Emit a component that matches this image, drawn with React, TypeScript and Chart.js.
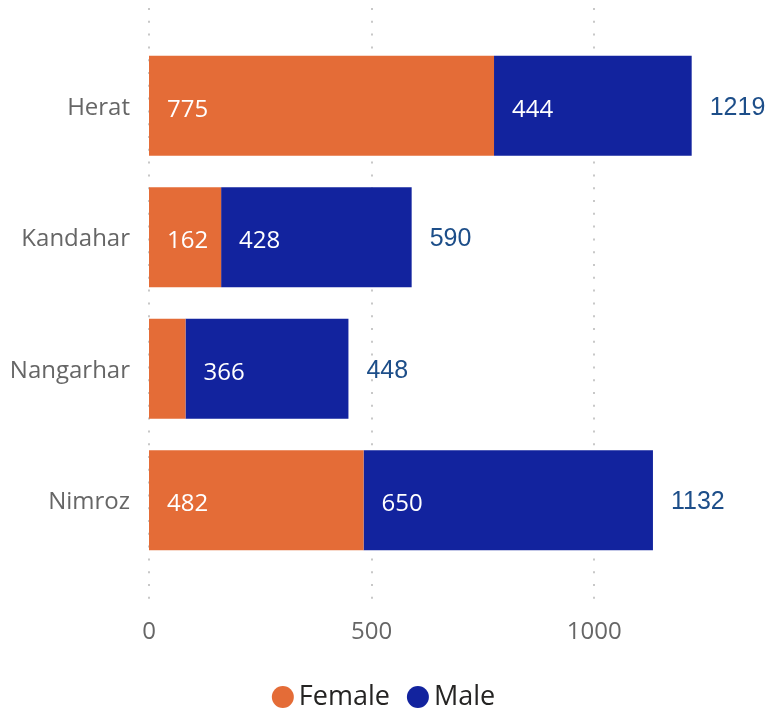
import React, { useEffect, useRef } from "react";
import { Chart, registerables } from "chart.js";

Chart.register(...registerables);

const categories = ["Herat", "Kandahar", "Nangarhar", "Nimroz"];
const femaleValues = [775, 162, 82, 482];
const maleValues = [444, 428, 366, 650];
const xTickValues = [0, 500, 1000];

const FEMALE_COLOR = "#E46C37";
const MALE_COLOR = "#12239E";
const UI_FONT = "'Segoe UI', 'Open Sans', sans-serif";

const gridPlugin = {
  id: "dottedGrid",
  beforeDatasetsDraw(chart: any) {
    const ctx = chart.ctx;
    const xs = chart.scales.x;
    ctx.save();
    ctx.strokeStyle = "#C8C8C8";
    ctx.lineWidth = 2;
    ctx.setLineDash([2, 10.8]);
    xTickValues.forEach((v) => {
      const x = Math.round(xs.getPixelForValue(v));
      ctx.beginPath();
      ctx.moveTo(x, 8);
      ctx.lineTo(x, chart.chartArea.bottom + 42);
      ctx.stroke();
    });
    ctx.restore();
  },
};

const labelPlugin = {
  id: "barLabels",
  afterDatasetsDraw(chart: any) {
    const ctx = chart.ctx;
    ctx.save();
    ctx.textBaseline = "middle";
    ctx.textAlign = "left";
    ctx.font = `24px ${UI_FONT}`;
    ctx.fillStyle = "#FFFFFF";
    chart.data.datasets.forEach((ds: any, di: number) => {
      const meta = chart.getDatasetMeta(di);
      meta.data.forEach((bar: any, i: number) => {
        const left = Math.min(bar.x, bar.base);
        const w = Math.abs(bar.x - bar.base);
        if (w < 50) return;
        ctx.fillText(String(ds.data[i]), left + 18, bar.y + 4);
      });
    });
    // totals
    ctx.font = "25px 'Liberation Sans', Arial, sans-serif";
    ctx.fillStyle = "#1D4E89";
    const lastMeta = chart.getDatasetMeta(chart.data.datasets.length - 1);
    lastMeta.data.forEach((bar: any, i: number) => {
      const total = femaleValues[i] + maleValues[i];
      ctx.fillText(String(total), bar.x + 18, bar.y + 2);
    });
    ctx.restore();
  },
};

const legendPlugin = {
  id: "customLegend",
  afterDraw(chart: any) {
    const ctx = chart.ctx;
    ctx.save();
    ctx.font = `27px ${UI_FONT}`;
    ctx.textBaseline = "middle";
    ctx.textAlign = "left";
    const items = chart.data.datasets.map((d: any) => ({ label: d.label, color: d.backgroundColor }));
    const r = 11;
    const gapText = 5;
    const gapItem = 17;
    const widths = items.map((it: any) => 2 * r + gapText + ctx.measureText(it.label).width);
    const total = widths.reduce((a: number, b: number) => a + b, 0) + gapItem * (items.length - 1);
    let x = chart.width / 2 - total / 2;
    const y = 697;
    items.forEach((it: any, i: number) => {
      ctx.fillStyle = it.color;
      ctx.beginPath();
      ctx.arc(x + r, y, r, 0, Math.PI * 2);
      ctx.fill();
      ctx.fillStyle = "#252423";
      ctx.fillText(it.label, x + 2 * r + gapText, y);
      x += widths[i] + gapItem;
    });
    ctx.restore();
  },
};

export default function App() {
  const canvasRef = useRef<HTMLCanvasElement | null>(null);

  useEffect(() => {
    if (!canvasRef.current) return;
    const chart = new Chart(canvasRef.current, {
      type: "bar",
      data: {
        labels: categories,
        datasets: [
          {
            label: "Female",
            data: femaleValues,
            backgroundColor: FEMALE_COLOR,
            barPercentage: 0.76,
            categoryPercentage: 1,
          },
          {
            label: "Male",
            data: maleValues,
            backgroundColor: MALE_COLOR,
            barPercentage: 0.76,
            categoryPercentage: 1,
          },
        ],
      },
      options: {
        indexAxis: "y",
        animation: false,
        responsive: true,
        maintainAspectRatio: false,
        layout: { padding: { top: 40, left: 0, right: 17, bottom: 56 } },
        plugins: {
          legend: { display: false },
          tooltip: { enabled: false },
        },
        scales: {
          x: {
            stacked: true,
            min: 0,
            max: 1350,
            border: { display: false },
            grid: { display: false, drawTicks: false },
            afterBuildTicks(scale: any) {
              scale.ticks = xTickValues.map((v) => ({ value: v }));
            },
            ticks: {
              padding: 52,
              color: "#666666",
              font: { size: 24, family: UI_FONT },
              callback: (v: any) => String(v),
            },
            afterFit(scale: any) {
              scale.height = 90;
            },
          },
          y: {
            stacked: true,
            border: { display: false },
            grid: { display: false, drawTicks: false },
            ticks: {
              padding: 19,
              labelOffset: 2,
              color: "#666666",
              font: { size: 24, family: UI_FONT },
            },
            afterFit(scale: any) {
              scale.width = 149;
            },
          },
        },
      },
      plugins: [gridPlugin, labelPlugin, legendPlugin],
    });
    return () => chart.destroy();
  }, []);

  return (
    <div style={{ position: "fixed", left: 0, top: 0, width: 767, height: 712 }}>
      <canvas ref={canvasRef} />
    </div>
  );
}
